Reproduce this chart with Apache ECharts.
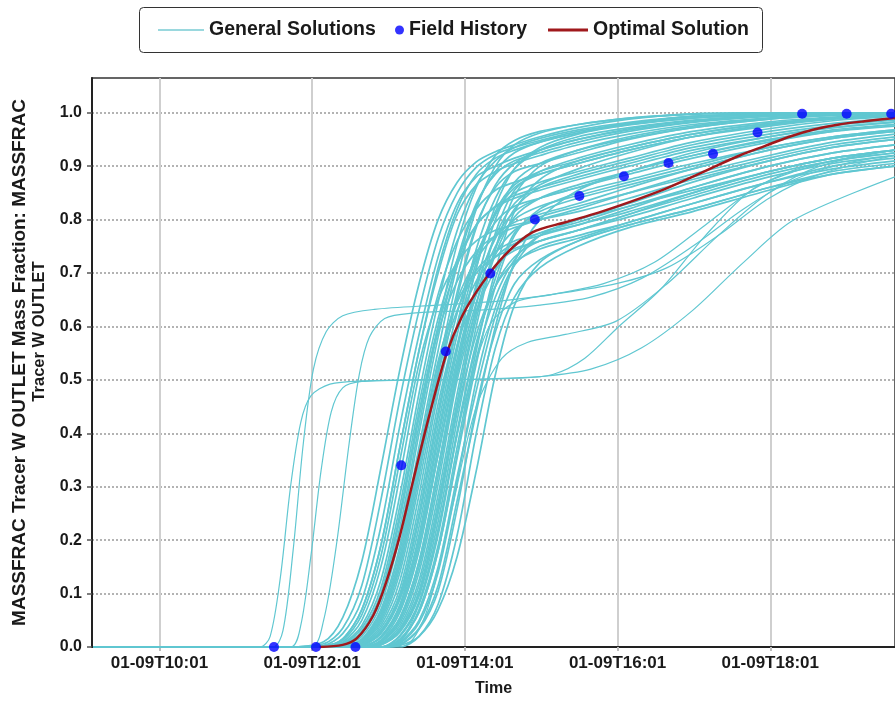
<!DOCTYPE html>
<html>
<head>
<meta charset="utf-8">
<title>MASSFRAC Tracer W OUTLET</title>
<script src="https://cdn.jsdelivr.net/npm/echarts@6/dist/echarts.min.js"></script>
<style>
    html, body { margin: 0; padding: 0; background: #fff; }
    #chart { width: 895px; height: 702px; }
</style>
</head>
<body>
<div id="chart"></div>
<script>
// time is in minutes after 01-09T00:00
var xTickValues = [601, 721, 841, 961, 1081];
var xTickLabels = ['01-09T10:01', '01-09T12:01', '01-09T14:01', '01-09T16:01', '01-09T18:01'];
var yTickValues = [0, 0.1, 0.2, 0.3, 0.4, 0.5, 0.6, 0.7, 0.8, 0.9, 1.0];

// Field History (blue dots)
var fieldTimes = [691, 724, 755, 791, 826, 861, 896, 931, 966, 1001, 1036, 1071, 1106, 1141, 1176];
var fieldValues = [0, 0, 0, 0.34, 0.553, 0.699, 0.8, 0.844, 0.881, 0.906, 0.923, 0.963, 0.998, 0.998, 0.998];

// Optimal Solution (red line)
var optimalTimes = [727, 745, 756, 769, 779, 790, 800, 813, 826, 839, 855, 873, 894, 920, 946, 972, 998, 1018, 1038, 1057, 1077, 1096, 1116, 1135, 1155, 1179];
var optimalValues = [0, 0.004, 0.016, 0.059, 0.12, 0.209, 0.308, 0.433, 0.545, 0.62, 0.682, 0.735, 0.776, 0.795, 0.813, 0.834, 0.857, 0.878, 0.9, 0.92, 0.938, 0.955, 0.969, 0.978, 0.984, 0.99];

// General Solutions, main bundle: all sampled at the same times
var bundleTimes = [549, 700, 730, 745, 760, 775, 790, 805, 820, 835, 850, 865, 880, 900, 930, 970, 1020, 1080, 1130, 1179];
var bundleCurves = [
    [0, 0, 0.01, 0.055, 0.16, 0.335, 0.52, 0.68, 0.8, 0.87, 0.908, 0.927, 0.94, 0.955, 0.972, 0.988, 0.998, 1, 1, 1],
    [0, 0, 0.006, 0.035, 0.115, 0.275, 0.465, 0.63, 0.765, 0.85, 0.898, 0.922, 0.935, 0.948, 0.965, 0.98, 0.993, 0.999, 1, 1],
    [0, 0, 0.003, 0.025, 0.088, 0.225, 0.415, 0.585, 0.73, 0.83, 0.88, 0.9, 0.915, 0.93, 0.95, 0.97, 0.985, 0.995, 0.999, 1],
    [0, 0, 0.002, 0.015, 0.07, 0.19, 0.375, 0.555, 0.7, 0.81, 0.865, 0.89, 0.905, 0.92, 0.94, 0.96, 0.978, 0.99, 0.996, 0.999],
    [0, 0, 0, 0.009, 0.05, 0.15, 0.32, 0.51, 0.66, 0.76, 0.82, 0.855, 0.87, 0.885, 0.905, 0.93, 0.955, 0.975, 0.988, 0.995],
    [0, 0, 0, 0.007, 0.04, 0.125, 0.285, 0.475, 0.645, 0.78, 0.865, 0.91, 0.935, 0.952, 0.968, 0.982, 0.993, 0.999, 1, 1],
    [0, 0, 0, 0.004, 0.03, 0.1, 0.25, 0.44, 0.6, 0.715, 0.79, 0.823, 0.84, 0.855, 0.875, 0.9, 0.93, 0.955, 0.972, 0.983],
    [0, 0, 0, 0.003, 0.02, 0.08, 0.21, 0.4, 0.58, 0.725, 0.83, 0.885, 0.91, 0.925, 0.945, 0.965, 0.982, 0.993, 0.998, 1],
    [0, 0, 0, 0, 0.013, 0.065, 0.18, 0.36, 0.535, 0.645, 0.705, 0.74, 0.76, 0.775, 0.8, 0.83, 0.87, 0.91, 0.935, 0.95],
    [0, 0, 0, 0, 0.009, 0.05, 0.15, 0.32, 0.51, 0.665, 0.79, 0.86, 0.89, 0.905, 0.925, 0.95, 0.972, 0.988, 0.995, 0.999],
    [0, 0, 0, 0, 0.006, 0.04, 0.125, 0.285, 0.475, 0.625, 0.735, 0.795, 0.825, 0.84, 0.86, 0.89, 0.925, 0.955, 0.972, 0.982],
    [0, 0, 0, 0, 0.004, 0.03, 0.1, 0.25, 0.44, 0.605, 0.73, 0.81, 0.85, 0.87, 0.89, 0.915, 0.945, 0.97, 0.985, 0.993],
    [0, 0, 0, 0, 0, 0.02, 0.08, 0.21, 0.4, 0.565, 0.66, 0.715, 0.742, 0.76, 0.78, 0.81, 0.85, 0.89, 0.915, 0.93],
    [0, 0, 0, 0, 0, 0.013, 0.065, 0.18, 0.36, 0.54, 0.675, 0.765, 0.815, 0.84, 0.86, 0.885, 0.915, 0.945, 0.965, 0.978],
    [0, 0, 0, 0, 0, 0.009, 0.05, 0.15, 0.32, 0.51, 0.645, 0.735, 0.78, 0.805, 0.825, 0.85, 0.88, 0.915, 0.94, 0.955],
    [0, 0, 0, 0, 0, 0.006, 0.04, 0.125, 0.285, 0.475, 0.64, 0.775, 0.855, 0.89, 0.915, 0.94, 0.965, 0.983, 0.992, 0.997],
    [0, 0, 0, 0, 0, 0.004, 0.03, 0.1, 0.25, 0.44, 0.585, 0.675, 0.72, 0.745, 0.765, 0.795, 0.83, 0.87, 0.895, 0.91],
    [0, 0, 0, 0, 0, 0, 0.02, 0.08, 0.21, 0.4, 0.565, 0.69, 0.775, 0.815, 0.84, 0.865, 0.895, 0.93, 0.952, 0.965],
    [0, 0, 0, 0, 0, 0, 0.013, 0.065, 0.18, 0.36, 0.54, 0.655, 0.725, 0.77, 0.79, 0.815, 0.85, 0.89, 0.915, 0.93],
    [0, 0, 0, 0, 0, 0, 0.007, 0.045, 0.14, 0.31, 0.5, 0.635, 0.715, 0.75, 0.77, 0.795, 0.83, 0.87, 0.9, 0.915],
    [0, 0, 0, 0, 0, 0, 0.004, 0.033, 0.105, 0.26, 0.45, 0.59, 0.68, 0.725, 0.76, 0.79, 0.82, 0.86, 0.885, 0.9],
    [0, 0, 0, 0, 0, 0, 0, 0.02, 0.08, 0.21, 0.4, 0.56, 0.655, 0.71, 0.75, 0.785, 0.815, 0.855, 0.885, 0.9],
    [0, 0, 0, 0.002, 0.015, 0.07, 0.19, 0.375, 0.555, 0.715, 0.825, 0.89, 0.925, 0.945, 0.962, 0.978, 0.99, 0.997, 1, 1],
    [0, 0, 0, 0, 0.003, 0.028, 0.095, 0.24, 0.43, 0.6, 0.745, 0.84, 0.895, 0.93, 0.955, 0.972, 0.986, 0.995, 0.999, 1],
    [0, 0, 0, 0, 0, 0.011, 0.055, 0.16, 0.335, 0.52, 0.68, 0.8, 0.87, 0.905, 0.93, 0.952, 0.972, 0.988, 0.995, 0.999],
    [0, 0, 0, 0, 0.01, 0.055, 0.16, 0.335, 0.515, 0.63, 0.7, 0.73, 0.746, 0.76, 0.78, 0.81, 0.845, 0.885, 0.91, 0.925],
    [0, 0, 0, 0, 0, 0, 0.01, 0.07, 0.19, 0.375, 0.555, 0.705, 0.815, 0.875, 0.91, 0.935, 0.96, 0.98, 0.99, 0.996],
    [0, 0, 0, 0.004, 0.028, 0.095, 0.24, 0.43, 0.59, 0.685, 0.74, 0.77, 0.785, 0.8, 0.82, 0.85, 0.885, 0.92, 0.945, 0.96],
    [0, 0, 0, 0, 0.002, 0.018, 0.075, 0.2, 0.39, 0.565, 0.71, 0.815, 0.865, 0.89, 0.91, 0.935, 0.96, 0.98, 0.99, 0.996],
    [0, 0, 0, 0, 0, 0.005, 0.033, 0.105, 0.26, 0.45, 0.615, 0.735, 0.805, 0.84, 0.865, 0.89, 0.92, 0.95, 0.968, 0.978],
    [0, 0, 0.002, 0.015, 0.07, 0.19, 0.375, 0.555, 0.71, 0.82, 0.885, 0.915, 0.93, 0.945, 0.962, 0.98, 0.993, 0.999, 1, 1],
    [0, 0, 0, 0.005, 0.035, 0.11, 0.265, 0.455, 0.615, 0.725, 0.79, 0.825, 0.845, 0.86, 0.88, 0.905, 0.935, 0.96, 0.976, 0.986],
    [0, 0, 0, 0.004, 0.025, 0.09, 0.225, 0.415, 0.6, 0.755, 0.86, 0.92, 0.948, 0.965, 0.978, 0.99, 0.997, 1, 1, 1],
    [0, 0, 0, 0, 0.012, 0.06, 0.17, 0.35, 0.53, 0.65, 0.725, 0.77, 0.795, 0.81, 0.83, 0.86, 0.895, 0.93, 0.952, 0.965],
    [0, 0, 0, 0, 0.008, 0.045, 0.14, 0.305, 0.49, 0.655, 0.785, 0.865, 0.905, 0.93, 0.95, 0.968, 0.983, 0.994, 0.998, 1],
    [0, 0, 0, 0, 0.005, 0.035, 0.11, 0.265, 0.455, 0.6, 0.685, 0.73, 0.755, 0.77, 0.79, 0.82, 0.86, 0.9, 0.925, 0.94],
    [0, 0, 0, 0, 0.003, 0.025, 0.09, 0.225, 0.415, 0.585, 0.72, 0.81, 0.86, 0.885, 0.905, 0.93, 0.955, 0.977, 0.988, 0.995],
    [0, 0, 0, 0, 0.002, 0.017, 0.07, 0.19, 0.375, 0.555, 0.71, 0.825, 0.895, 0.935, 0.96, 0.977, 0.99, 0.998, 1, 1],
    [0, 0, 0, 0, 0, 0.009, 0.045, 0.14, 0.305, 0.5, 0.63, 0.705, 0.75, 0.775, 0.795, 0.825, 0.86, 0.9, 0.925, 0.94],
    [0, 0, 0, 0, 0, 0.006, 0.035, 0.115, 0.27, 0.46, 0.625, 0.745, 0.82, 0.86, 0.885, 0.91, 0.94, 0.965, 0.98, 0.99],
    [0, 0, 0, 0, 0, 0.004, 0.028, 0.095, 0.235, 0.425, 0.6, 0.745, 0.845, 0.9, 0.93, 0.955, 0.975, 0.99, 0.997, 1],
    [0, 0, 0, 0, 0, 0, 0.022, 0.085, 0.22, 0.405, 0.57, 0.675, 0.73, 0.76, 0.78, 0.805, 0.84, 0.88, 0.905, 0.92],
    [0, 0, 0, 0, 0, 0, 0.015, 0.065, 0.18, 0.355, 0.53, 0.675, 0.77, 0.82, 0.85, 0.875, 0.905, 0.935, 0.955, 0.968],
    [0, 0, 0, 0, 0, 0, 0.009, 0.05, 0.15, 0.32, 0.48, 0.62, 0.715, 0.77, 0.8, 0.825, 0.855, 0.89, 0.915, 0.93],
    [0, 0, 0, 0, 0, 0, 0.005, 0.035, 0.115, 0.275, 0.44, 0.6, 0.72, 0.8, 0.855, 0.89, 0.92, 0.948, 0.965, 0.975],
    [0, 0, 0, 0.012, 0.06, 0.17, 0.35, 0.53, 0.65, 0.72, 0.76, 0.78, 0.79, 0.8, 0.815, 0.84, 0.875, 0.91, 0.935, 0.95],
    [0, 0, 0, 0, 0.01, 0.055, 0.16, 0.335, 0.52, 0.69, 0.82, 0.9, 0.94, 0.962, 0.978, 0.99, 0.998, 1, 1, 1],
    [0, 0, 0, 0, 0, 0.011, 0.055, 0.16, 0.335, 0.52, 0.66, 0.75, 0.8, 0.825, 0.845, 0.87, 0.9, 0.935, 0.955, 0.968],
    [0, 0, 0, 0, 0, 0, 0.003, 0.02, 0.07, 0.17, 0.33, 0.51, 0.64, 0.72, 0.76, 0.79, 0.82, 0.86, 0.89, 0.905],
    [0, 0, 0, 0, 0.006, 0.03, 0.09, 0.2, 0.36, 0.53, 0.67, 0.77, 0.83, 0.865, 0.895, 0.925, 0.955, 0.978, 0.99, 0.996]
];

// General Solutions that break out early or lag behind the bundle
var outlierTimes = [
    [549, 680, 688, 696, 704, 712, 720, 735, 760, 820, 880, 910, 935, 962, 995, 1030, 1066, 1100, 1140, 1179],
    [549, 690, 698, 706, 714, 722, 732, 745, 770, 820, 870, 910, 960, 1000, 1040, 1080, 1120, 1179],
    [549, 704, 712, 720, 728, 736, 745, 760, 800, 860, 900, 940, 980, 1020, 1060, 1100, 1179],
    [549, 720, 730, 740, 750, 758, 766, 778, 800, 850, 900, 940, 980, 1020, 1060, 1100, 1140, 1179],
    [549, 790, 810, 830, 850, 870, 890, 920, 960, 1000, 1040, 1080, 1120, 1179],
    [549, 780, 800, 820, 840, 860, 880, 910, 950, 990, 1030, 1070, 1110, 1179]
];
var outlierValues = [
    [0, 0, 0.02, 0.13, 0.3, 0.42, 0.47, 0.492, 0.498, 0.5, 0.503, 0.51, 0.54, 0.6, 0.67, 0.77, 0.855, 0.89, 0.915, 0.93],
    [0, 0, 0.03, 0.18, 0.38, 0.52, 0.59, 0.62, 0.632, 0.64, 0.648, 0.66, 0.68, 0.71, 0.77, 0.84, 0.885, 0.92],
    [0, 0, 0.04, 0.17, 0.33, 0.44, 0.485, 0.497, 0.5, 0.502, 0.506, 0.52, 0.56, 0.63, 0.72, 0.8, 0.88],
    [0, 0, 0.05, 0.19, 0.38, 0.51, 0.58, 0.615, 0.625, 0.63, 0.64, 0.655, 0.69, 0.75, 0.82, 0.875, 0.905, 0.92],
    [0, 0, 0.06, 0.25, 0.45, 0.54, 0.57, 0.585, 0.61, 0.68, 0.77, 0.85, 0.9, 0.93],
    [0, 0, 0.05, 0.22, 0.45, 0.6, 0.645, 0.66, 0.68, 0.72, 0.79, 0.86, 0.9, 0.925]
];

var font = '"Liberation Sans", Arial, sans-serif';
var cyan = '#60c7d1';
var darkRed = '#a0191c';

function pairs(times, values) {
    var out = [];
    for (var i = 0; i < times.length; i++) {
        out.push([times[i], values[i]]);
    }
    return out;
}

function generalSeries(data, width) {
    return {
        name: 'General Solutions',
        type: 'line',
        data: data,
        symbol: 'none',
        smooth: 0.3,
        silent: true,
        z: 2,
        lineStyle: { color: cyan, width: width },
        itemStyle: { color: cyan },
        emphasis: { disabled: true }
    };
}

var series = [];
for (var i = 0; i < bundleCurves.length; i++) {
    series.push(generalSeries(pairs(bundleTimes, bundleCurves[i]), 1.7));
}
for (var j = 0; j < outlierTimes.length; j++) {
    series.push(generalSeries(pairs(outlierTimes[j], outlierValues[j]), 1.2));
}
series.push({
    name: 'Optimal Solution',
    type: 'line',
    data: pairs(optimalTimes, optimalValues),
    symbol: 'none',
    smooth: 0.3,
    z: 3,
    lineStyle: { color: darkRed, width: 2.5 },
    itemStyle: { color: darkRed }
});
series.push({
    name: 'Field History',
    type: 'scatter',
    data: pairs(fieldTimes, fieldValues),
    symbolSize: 10,
    z: 4,
    itemStyle: { color: '#0000ff' }
});

var legendText = { fontFamily: font, fontSize: 19.5, fontWeight: 'bold', color: '#1a1a1a', lineHeight: 20 };

var myChart = echarts.init(document.getElementById('chart'));
var option = {
    animation: false,
    backgroundColor: '#ffffff',
    textStyle: { fontFamily: font },
    graphic: [{
        type: 'rect',
        shape: { x: 139.5, y: 7.5, width: 623, height: 45, r: 4 },
        style: { fill: 'transparent', stroke: '#333', lineWidth: 1 }
    }],
    legend: [
        {
            data: [{ name: 'General Solutions', icon: 'rect', itemStyle: { color: '#9ad8de' } }],
            left: 158, top: 20, padding: 0, itemWidth: 46, itemHeight: 2, textStyle: legendText
        },
        {
            data: [{ name: 'Field History', icon: 'circle' }],
            left: 395, top: 20, padding: 0, itemWidth: 9, itemHeight: 9, textStyle: legendText
        },
        {
            data: [{ name: 'Optimal Solution', icon: 'rect' }],
            left: 548, top: 20, padding: 0, itemWidth: 40, itemHeight: 3, textStyle: legendText
        }
    ],
    grid: {
        left: 92,
        right: -3,
        top: 78,
        bottom: 54,
        show: true,
        borderColor: '#333',
        borderWidth: 1.5
    },
    xAxis: {
        type: 'value',
        min: 548,
        max: 1179,
        name: 'Time',
        nameLocation: 'middle',
        nameGap: 34,
        nameTextStyle: { fontFamily: font, fontSize: 16, fontWeight: 'bold', color: '#1a1a1a' },
        axisLine: { onZero: false, lineStyle: { color: '#222', width: 2 } },
        axisTick: { show: true, length: 4, customValues: xTickValues, lineStyle: { color: '#bbb', width: 2 } },
        axisLabel: {
            customValues: xTickValues,
            formatter: function (v) { return xTickLabels[xTickValues.indexOf(v)] || ''; },
            fontFamily: font, fontSize: 17, fontWeight: 'bold', color: '#1a1a1a', margin: 8
        },
        splitLine: { show: true, lineStyle: { color: '#cfcfcf', width: 2, type: 'solid' } }
    },
    yAxis: {
        type: 'value',
        min: 0,
        max: 1.065,
        interval: 0.1,
        name: '{a|MASSFRAC Tracer W OUTLET Mass Fraction: MASSFRAC}\n{b|Tracer W OUTLET}',
        nameLocation: 'middle',
        nameGap: 44,
        nameTextStyle: {
            fontFamily: font, fontWeight: 'bold', color: '#1a1a1a',
            rich: {
                a: { fontFamily: font, fontSize: 19, fontWeight: 'bold', color: '#1a1a1a', lineHeight: 20 },
                b: { fontFamily: font, fontSize: 16.5, fontWeight: 'bold', color: '#1a1a1a', lineHeight: 18, padding: [0, 0, 0, 62] }
            }
        },
        axisLine: { show: true, lineStyle: { color: '#222', width: 2 } },
        axisTick: { show: true, length: 5, customValues: yTickValues, lineStyle: { color: '#555', width: 1.5 } },
        axisLabel: {
            customValues: yTickValues,
            formatter: function (v) { return v.toFixed(1); },
            fontFamily: font, fontSize: 16, fontWeight: 'bold', color: '#1a1a1a', margin: 10
        },
        splitLine: { show: true, lineStyle: { color: '#9a9a9a', width: 1.5, type: [2, 2] } }
    },
    series: series
};
myChart.setOption(option);
</script>
</body>
</html>
